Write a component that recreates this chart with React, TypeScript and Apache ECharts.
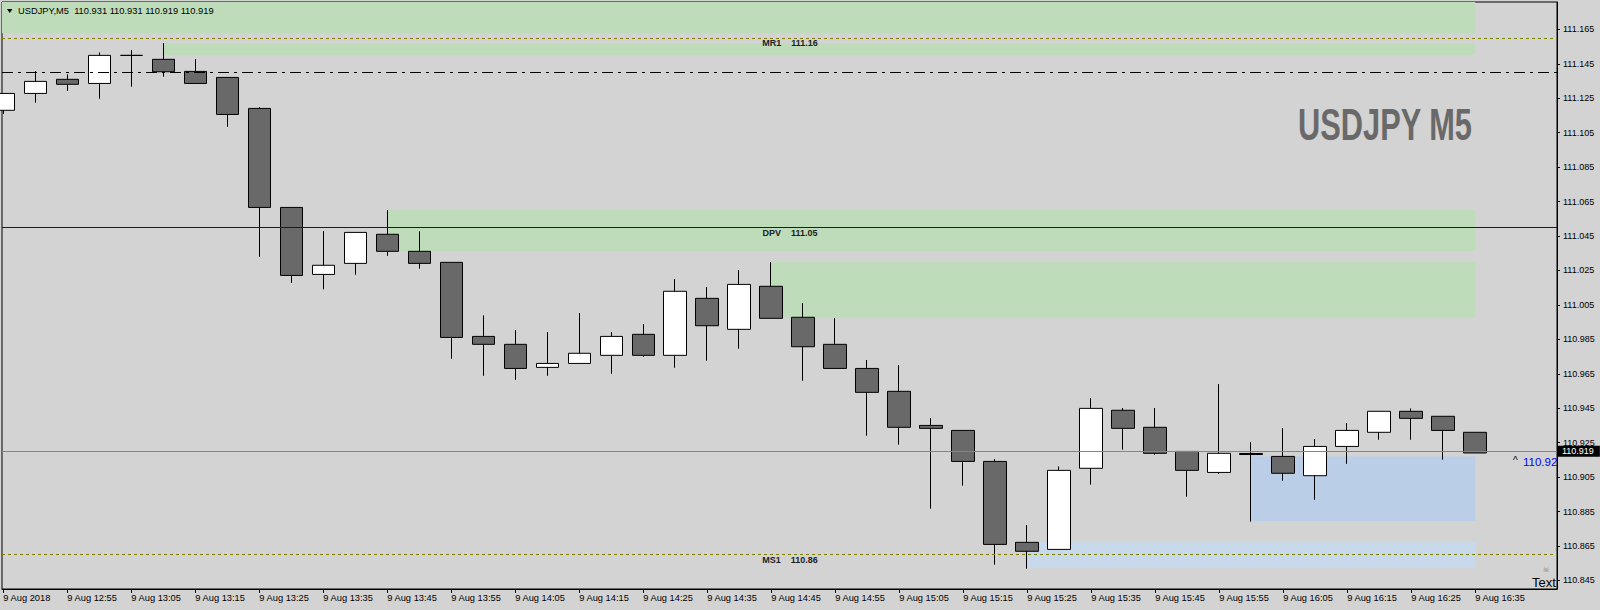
import React, { useEffect, useRef } from 'react';
import * as echarts from 'echarts';

// ---- data ----
const symbolName = 'USDJPY';
const timeframe = 'M5';
const dateLabel = '9 Aug';
const yearLabel = '9 Aug 2018';
const times = [
  '12:45', '12:50', '12:55', '13:00', '13:05', '13:10', '13:15', '13:20', '13:25', '13:30',
  '13:35', '13:40', '13:45', '13:50', '13:55', '14:00', '14:05', '14:10', '14:15', '14:20',
  '14:25', '14:30', '14:35', '14:40', '14:45', '14:50', '14:55', '15:00', '15:05', '15:10',
  '15:15', '15:20', '15:25', '15:30', '15:35', '15:40', '15:45', '15:50', '15:55', '16:00',
  '16:05', '16:10', '16:15', '16:20', '16:25', '16:30', '16:35',
];
const opens = [
  111.1180, 111.1278, 111.1360, 111.1336, 111.1499, 111.1476, 111.1406, 111.1371, 111.1191, 111.0616,
  111.0227, 111.0291, 111.0460, 111.0361, 111.0297, 110.9867, 110.9821, 110.9687, 110.9710, 110.9757,
  110.9879, 110.9757, 111.0088, 110.9908, 111.0158, 110.9978, 110.9821, 110.9681, 110.9548, 110.9350,
  110.9321, 110.9141, 110.8671, 110.8630, 110.9101, 110.9438, 110.9339, 110.9199, 110.9077, 110.9187,
  110.9170, 110.9058, 110.9228, 110.9310, 110.9432, 110.9403, 110.9310,
];
const highs = [
  111.1278, 111.1408, 111.1389, 111.1516, 111.1530, 111.1570, 111.1478, 111.1371, 111.1199, 111.0616,
  111.0479, 111.0471, 111.0601, 111.0477, 111.0297, 110.9989, 110.9904, 110.9892, 111.0003, 110.9892,
  110.9939, 111.0200, 111.0154, 111.0252, 111.0299, 111.0061, 110.9974, 110.9730, 110.9701, 110.9393,
  110.9321, 110.9155, 110.8771, 110.9112, 110.9509, 110.9451, 110.9451, 110.9199, 110.9590, 110.9253,
  110.9335, 110.9271, 110.9364, 110.9432, 110.9449, 110.9403, 110.9310,
];
const lows = [
  111.1158, 111.1224, 111.1293, 111.1247, 111.1317, 111.1375, 111.1336, 111.1084, 111.0329, 111.0178,
  111.0140, 111.0225, 111.0335, 111.0260, 110.9737, 110.9638, 110.9615, 110.9638, 110.9710, 110.9650,
  110.9749, 110.9685, 110.9726, 110.9795, 110.9972, 110.9609, 110.9681, 110.9290, 110.9238, 110.8866,
  110.9000, 110.8541, 110.8518, 110.8630, 110.9006, 110.9209, 110.9180, 110.8936, 110.9069, 110.8791,
  110.9029, 110.8918, 110.9127, 110.9267, 110.9267, 110.9151, 110.9190,
];
const closes = [
  111.1278, 111.1348, 111.1331, 111.1499, 111.1499, 111.1404, 111.1336, 111.1156, 111.0616, 111.0221,
  111.0280, 111.0471, 111.0361, 111.0291, 110.9861, 110.9821, 110.9681, 110.9710, 110.9769, 110.9867,
  110.9757, 111.0129, 110.9929, 111.0169, 110.9972, 110.9807, 110.9681, 110.9542, 110.9339, 110.9333,
  110.9141, 110.8659, 110.8619, 110.9089, 110.9449, 110.9333, 110.9188, 110.9089, 110.9188, 110.9181,
  110.9072, 110.9228, 110.9321, 110.9432, 110.9391, 110.9321, 110.9190,
];
const yTicks = [
  110.845, 110.865, 110.885, 110.905, 110.925, 110.945, 110.965, 110.985, 111.005,
  111.025, 111.045, 111.065, 111.085, 111.105, 111.125, 111.145, 111.165,
];
const xLabelIndexes = [0, 2, 4, 6, 8, 10, 12, 14, 16, 18, 20, 22, 24, 26, 28, 30, 32, 34, 36, 38, 40, 42, 44, 46];

// pivot levels
const levelNames = ['MR1', 'DPV', 'MS1'];
const levelValues = [111.1588, 111.0508, 110.8578];
const dashDotLevel = 111.1389;
const lastPrice = 110.919;
const arrowPriceText = '110.92';

// zones: start candle index, end candle index, upper price, lower price
const greenZoneStart = [null, 5, 12, 24];
const greenZoneEnd = [46, 46, 46, 46];
const greenZoneTop = [null, 111.1569, 111.0601, 111.0299];
const greenZoneBottom = [111.1627, 111.1501, 111.0363, 110.9977];
const blueZoneStart = [39, 32];
const blueZoneEnd = [46, 46];
const blueZoneTop = [110.917, 110.8673];
const blueZoneBottom = [110.8795, 110.8524];

const X_MIN = -0.04;
const X_MAX = 48.556;
const Y_MIN = 110.84;
const Y_MAX = 111.1809;

const FONT = '"Liberation Sans", Arial, sans-serif';

export default function App() {
  const ref = useRef<HTMLDivElement>(null);
  useEffect(() => {
    const chart = echarts.init(ref.current as HTMLDivElement, null, { renderer: 'svg' });
    const candleData = times.map((_, i) => [i, opens[i], closes[i], lows[i], highs[i]]);

    const zones: any[] = [];
    greenZoneStart.forEach((s, i) => {
      zones.push([
        {
          xAxis: s == null ? X_MIN : s,
          yAxis: greenZoneTop[i] == null ? Y_MAX : greenZoneTop[i],
          itemStyle: { color: '#bedcb9', opacity: 1 },
        },
        { xAxis: greenZoneEnd[i], yAxis: greenZoneBottom[i] },
      ]);
    });
    blueZoneStart.forEach((s, i) => {
      zones.push([
        {
          xAxis: s,
          yAxis: blueZoneTop[i],
          itemStyle: { color: i === 0 ? '#bacee7' : '#c7d9ea', opacity: 1 },
        },
        { xAxis: blueZoneEnd[i], yAxis: blueZoneBottom[i] },
      ]);
    });

    const levelLine = (i: number, color: string, type: any) => ({
      yAxis: levelValues[i],
      lineStyle: { color, type, width: 1 },
      label: {
        show: true,
        position: 'insideMiddleBottom',
        distance: 1,
        formatter: `${levelNames[i]}    ${levelValues[i].toFixed(2)}`,
        fontFamily: FONT,
        fontSize: 9,
        fontWeight: 'bold',
        color: '#1e1e1e',
        padding: [0, 0, 0, 21],
      },
    });

    const last = times.length - 1;
    const header = `${symbolName},${timeframe}  ${opens[last].toFixed(3)} ${highs[last].toFixed(3)} ${lows[last].toFixed(3)} ${closes[last].toFixed(3)}`;

    const option: any = {
      animation: false,
      backgroundColor: '#d3d3d3',
      grid: {
        left: 2, top: 2, width: 1555, height: 587,
        show: true, borderColor: '#000', borderWidth: 1, backgroundColor: '#d3d3d3',
      },
      xAxis: {
        type: 'value',
        min: X_MIN,
        max: X_MAX,
        axisLine: { show: true, onZero: false, lineStyle: { color: '#000', width: 1 } },
        axisTick: { show: true, customValues: xLabelIndexes, length: 4, lineStyle: { color: '#000' } },
        axisLabel: {
          customValues: xLabelIndexes,
          formatter: (v: number) => {
            const i = Math.round(v);
            return i === 0 ? yearLabel : `${dateLabel} ${times[i]}`;
          },
          align: 'left',
          margin: 4,
          fontSize: 9.3,
          fontFamily: FONT,
          color: '#000',
        },
        splitLine: { show: false },
      },
      yAxis: {
        type: 'value',
        position: 'right',
        min: Y_MIN,
        max: Y_MAX,
        axisLine: { show: true, onZero: false, lineStyle: { color: '#000', width: 1 } },
        axisTick: { show: true, customValues: yTicks, length: 3, lineStyle: { color: '#000' } },
        axisLabel: {
          customValues: yTicks,
          formatter: (v: number) => v.toFixed(3),
          margin: 6,
          fontSize: 9,
          fontFamily: FONT,
          color: '#000',
        },
        splitLine: { show: false },
      },
      series: [
        {
          type: 'line',
          z: 1,
          data: [],
          silent: true,
          markArea: { silent: true, data: zones },
        },
        {
          type: 'candlestick',
          z: 3,
          data: candleData,
          encode: { x: 0, y: [1, 2, 3, 4] },
          barWidth: 23,
          itemStyle: {
            color: '#ffffff',
            color0: '#696969',
            borderColor: '#000',
            borderColor0: '#000',
            borderColorDoji: '#000',
            borderWidth: 1,
          },
          markLine: {
            silent: true,
            symbol: ['none', 'none'],
            data: [
              levelLine(0, '#808000', [3, 3]),
              {
                yAxis: dashDotLevel,
                lineStyle: { color: '#000', type: [11, 5, 3, 5], width: 1 },
                label: { show: false },
              },
              levelLine(1, '#0000ff', 'solid'),
              {
                yAxis: lastPrice,
                lineStyle: { color: '#778899', type: 'solid', width: 1 },
                label: {
                  show: true,
                  position: 'end',
                  distance: 1,
                  formatter: lastPrice.toFixed(3),
                  backgroundColor: '#000',
                  color: '#fff',
                  fontFamily: FONT,
                  fontSize: 9,
                  padding: [1, 6, 1, 4],
                },
              },
              levelLine(2, '#808000', [3, 3]),
            ],
          },
        },
      ],
      graphic: [
        {
          type: 'polygon',
          z: 100,
          shape: { points: [[7, 9], [12.5, 9], [9.75, 13]] },
          style: { fill: '#000' },
        },
        {
          type: 'text',
          z: 100,
          x: 18,
          y: 11,
          style: { text: header, fontFamily: FONT, fontSize: 9.3, fill: '#000', verticalAlign: 'middle' },
        },
        {
          type: 'text',
          z: 100,
          x: 1472,
          y: 125,
          scaleX: 0.7,
          style: {
            text: `${symbolName} ${timeframe}`,
            fontFamily: FONT,
            fontWeight: 'bold',
            fontSize: 44,
            fill: '#696969',
            align: 'right',
            verticalAlign: 'middle',
          },
        },
        {
          type: 'text',
          z: 100,
          x: 1513,
          y: 460,
          style: { text: '^', fontFamily: FONT, fontSize: 10, fill: '#000', verticalAlign: 'middle' },
        },
        {
          type: 'text',
          z: 100,
          x: 1523,
          y: 462,
          style: { text: arrowPriceText, fontFamily: FONT, fontSize: 11.5, fill: '#0000ff', verticalAlign: 'middle' },
        },
        {
          type: 'text',
          z: 100,
          x: 1546,
          y: 569,
          style: { text: '☠', fontFamily: '"DejaVu Sans"', fontSize: 8, fill: '#8a8a8a', align: 'center', verticalAlign: 'middle' },
        },
        {
          type: 'text',
          z: 100,
          x: 1532,
          y: 582,
          style: { text: 'Text', fontFamily: FONT, fontSize: 13, fill: '#000', verticalAlign: 'middle' },
        },
      ],
    };
    chart.setOption(option);
    return () => chart.dispose();
  }, []);
  return (
    <div
      ref={ref}
      style={{ position: 'fixed', left: 0, top: 0, width: 1600, height: 610 }}
    />
  );
}
